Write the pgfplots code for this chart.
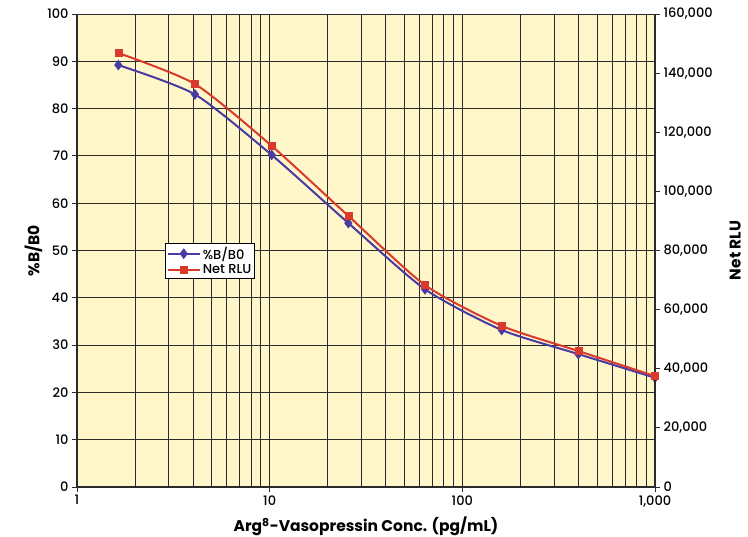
\documentclass[border=0pt]{standalone}
\usepackage{fontspec}
\setmainfont{Poppins}
\newfontfamily\tickfont{Poppins}[UprightFont={* Medium}]
\usepackage{pgfplots}
\pgfplotsset{compat=1.18}
\definecolor{bg}{HTML}{FFF6CA}
\definecolor{sblue}{HTML}{4A3BA3}
\definecolor{sred}{HTML}{DA3A2C}
\definecolor{gridc}{HTML}{2A2A2A}
\begin{document}
\begin{tikzpicture}
\useasboundingbox (-77pt,-50pt) rectangle (671pt,487pt);
\begin{axis}[
  at={(0,0)}, anchor=south west,
  scale only axis, width=578pt, height=473pt,
  xmode=log, xmin=1, xmax=1000,
  ymin=0, ymax=100, ytick={0,10,...,100},
  xtick={1,10,100,1000}, xticklabels={1,10,100,{1,000}},
  axis background/.style={fill=bg},
  grid=both,
  major grid style={gridc, line width=0.9pt},
  minor grid style={gridc, line width=0.9pt},
  minor tick length=0pt,
  tick align=outside, major tick length=5pt,
  tick style={gridc, line width=0.9pt},
  axis line style={gridc, line width=1.1pt},
  axis y line*=left, axis x line*=bottom,
  /pgf/number format/assume math mode=true,
  ticklabel style={font=\tickfont\fontsize{13}{15}\selectfont},
  xlabel={\textbf{Arg\textsuperscript{8}-Vasopressin Conc. (pg/mL)}},
  ylabel={\textbf{\%B/B0}},
  label style={font=\fontsize{15.5}{17}\selectfont},
  xlabel style={yshift=-3pt},
  ylabel style={yshift=-2pt},
  legend style={at={(0.152,0.516)}, anchor=north west, draw=black, line width=0.8pt, fill=white, font=\tickfont\fontsize{13}{14}\selectfont, inner sep=1.5pt, row sep=0pt},
  legend cell align=left,
  legend image code/.code={\draw[#1] (0pt,0pt) -- (32pt,0pt); \draw[#1, only marks] plot coordinates {(16pt,0pt)};},
]
\addplot[sblue, line width=2pt, smooth, tension=0.4, mark=diamond*, mark size=5pt, mark options={line width=0.5pt}] coordinates {
 (1.6384,89.2) (4.096,83.0) (10.24,70.2) (25.6,55.8) (64,41.8) (160,33.2) (400,28.1) (1000,23.1)};
\addlegendentry{\%B/B0}
\addplot[sred, line width=2pt, smooth, tension=0.4, mark=square*, mark size=3.5pt, mark options={line width=0.5pt}] coordinates {
 (1.6384,1000) (4.096,1000)};
\addlegendentry{Net RLU}
\end{axis}
\begin{axis}[
  at={(0,0)}, anchor=south west,
  scale only axis, width=578pt, height=473pt,
  xmode=log, xmin=1, xmax=1000,
  ymin=0, ymax=160000, ytick={0,20000,...,160000},
  axis x line=none, axis y line*=right,
  tick align=outside, major tick length=5pt,
  tick style={gridc, line width=0.9pt},
  axis line style={gridc, line width=1.1pt},
  scaled y ticks=false,
  /pgf/number format/.cd, 1000 sep={,}, fixed, assume math mode=true, /pgfplots/.cd,
  ticklabel style={font=\tickfont\fontsize{13}{15}\selectfont},
  ylabel={\textbf{Net RLU}},
  label style={font=\fontsize{15.5}{17}\selectfont},
  ylabel style={yshift=-10pt},
]
\addplot[sred, line width=2pt, smooth, tension=0.4, mark=square*, mark size=3.5pt, mark options={line width=0.5pt}] coordinates {
 (1.6384,146800) (4.096,136300) (10.24,115400) (25.6,91700) (64,68300) (160,54500) (400,46000) (1000,37500)};
\end{axis}
\end{tikzpicture}
\end{document}
